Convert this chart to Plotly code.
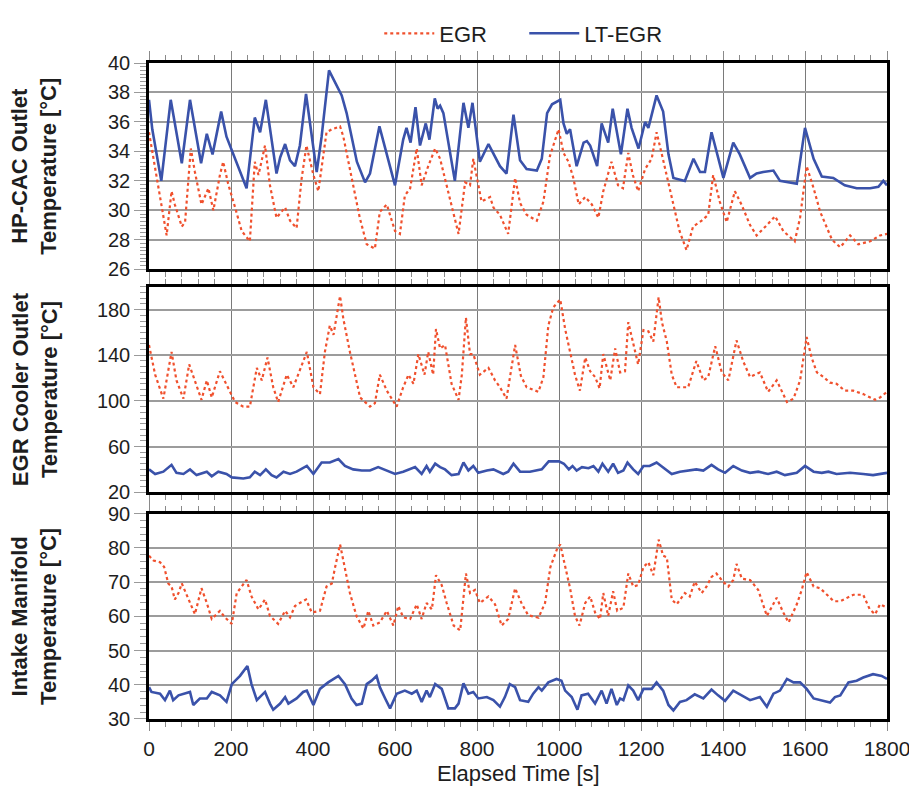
import plotly.graph_objects as go

# ---- HP-CAC outlet temperature [°C] (time [s], value) ----
hpcac_egr = [(0,35.3),(11,33.5),(23,31.7),(43,28.3),(55,31.3),(63,30.4),(80,28.9),(88,29.2),(102,34.2),(112,32.6),
             (128,30.4),(145,31.5),(157,30.0),(173,32.4),(181,33.3),(193,31.8),(210,30.2),(226,28.6),(246,27.9),(258,33.3),
             (267,32.4),(283,34.4),(295,31.7),(311,29.5),(332,30.2),(344,29.3),(360,28.8),(372,32.1),(384,34.4),(401,32.4),
             (413,31.3),(433,35.3),(446,35.5),(466,35.7),(474,35.0),(490,32.8),(514,29.5),(531,27.7),(551,27.4),(563,29.9),
             (580,30.4),(600,28.6),(612,28.4),(624,31.0),(637,31.5),(653,34.2),(665,31.7),(681,33.0),(698,34.2),(710,33.5),
             (718,32.6),(738,30.4),(755,28.4),(771,31.9),(783,31.7),(791,33.5),(811,30.6),(832,30.9),(840,30.2),(856,29.7),
             (876,28.4),(893,32.2),(905,30.5),(921,29.7),(946,29.3),(962,30.6),(978,33.7),(999,35.5),(1011,33.9),(1023,33.3),
             (1035,32.2),(1048,30.4),(1064,30.9),(1080,30.4),(1096,29.5),(1108,31.3),(1128,33.3),(1144,31.7),(1156,31.5),
             (1169,33.9),(1180,32.4),(1193,31.3),(1210,32.8),(1226,33.5),(1238,35.3),(1250,33.9),(1263,32.4),(1279,30.4),
             (1294,28.6),(1311,27.3),(1327,28.9),(1348,29.3),(1364,29.7),(1376,32.4),(1392,30.6),(1409,29.2),(1429,31.3),
             (1445,30.4),(1466,29.0),(1482,28.3),(1507,29.0),(1527,29.6),(1547,28.6),(1575,27.9),(1588,29.5),(1604,33.0),
             (1621,31.5),(1637,29.9),(1666,28.0),(1686,27.5),(1710,28.3),(1730,27.7),(1759,27.9),(1783,28.3),(1800,28.4)]

hpcac_lt = [(0,37.5),(8,35.5),(30,32.0),(53,37.5),(80,33.2),(100,37.5),(127,33.2),(141,35.2),(155,33.8),(176,36.7),
            (189,35.0),(238,31.5),(258,36.3),(271,35.3),(285,37.5),(311,32.5),(320,33.6),(332,34.5),(344,33.4),(356,33.0),
            (368,34.4),(383,37.9),(409,32.6),(421,35.0),(439,39.5),(458,38.4),(470,37.8),(482,36.6),(507,33.3),(527,31.9),
            (539,32.5),(562,35.7),(600,31.7),(620,34.8),(628,35.6),(638,34.6),(650,37.0),(661,34.4),(675,35.9),(684,34.8),
            (697,37.6),(704,36.9),(710,37.1),(718,36.6),(746,32.0),(767,37.3),(779,35.6),(789,37.3),(807,33.3),(828,34.5),
            (840,33.9),(856,33.0),(872,32.5),(889,36.5),(905,33.4),(921,32.8),(946,32.7),(958,33.5),(971,36.6),(983,37.2),
            (1003,37.5),(1011,35.9),(1019,35.2),(1027,35.5),(1043,33.0),(1060,34.6),(1068,34.7),(1076,34.4),(1093,33.0),
            (1104,35.9),(1120,34.6),(1131,36.9),(1151,33.8),(1167,36.9),(1177,35.6),(1194,34.2),(1210,36.0),(1218,35.6),
            (1238,37.8),(1254,36.7),(1267,33.8),(1279,32.2),(1307,32.0),(1328,33.5),(1344,32.6),(1356,32.6),(1372,35.3),
            (1401,32.2),(1425,34.6),(1441,33.8),(1466,32.2),(1482,32.5),(1498,32.6),(1523,32.7),(1539,32.0),(1564,31.9),
            (1580,31.8),(1600,35.6),(1621,33.5),(1641,32.3),(1669,32.2),(1697,31.7),(1726,31.5),(1759,31.5),(1779,31.6),
            (1791,32.0),(1800,31.7)]

# ---- EGR cooler outlet temperature [°C] ----
cooler_egr = [(0,149),(15,123),(35,102),(55,143),(67,118),(84,102),(98,132),(108,121),(128,101),(141,118),(153,103),
              (173,126),(193,112),(210,99),(230,95),(246,95),(263,129),(275,118),(289,138),(303,112),(315,99),(336,123),
              (352,112),(364,123),(385,143),(401,112),(417,106),(429,143),(441,166),(450,158),(466,192),(474,172),(490,143),
              (515,103),(539,95),(551,98),(563,123),(580,109),(604,95),(620,112),(633,123),(645,115),(657,141),(672,123),
              (681,143),(693,123),(700,163),(710,146),(722,149),(738,115),(755,101),(763,123),(773,173),(783,141),(791,141),
              (807,123),(828,129),(844,118),(856,112),(872,102),(893,149),(907,122),(921,112),(950,108),(962,121),(974,166),
              (986,182),(1003,189),(1015,163),(1027,143),(1039,123),(1051,109),(1064,138),(1076,126),(1088,121),(1099,111),
              (1108,141),(1125,118),(1137,146),(1149,125),(1161,126),(1169,169),(1181,149),(1193,132),(1206,162),(1218,161),
              (1230,152),(1243,191),(1251,169),(1263,152),(1275,123),(1287,112),(1315,112),(1335,135),(1352,118),(1364,121),
              (1381,148),(1397,125),(1413,118),(1433,153),(1449,135),(1466,121),(1490,125),(1510,108),(1531,118),(1556,99),
              (1572,102),(1588,118),(1604,156),(1616,138),(1629,125),(1645,121),(1661,116),(1677,115),(1697,109),(1718,109),
              (1742,106),(1771,101),(1783,103),(1800,108)]

cooler_lt = [(0,40),(15,36),(35,38),(55,44),(67,37),(84,36),(100,40),(116,35),(141,38),(153,34),(169,38),(189,36),
             (202,33),(230,32),(246,33),(258,38),(271,35),(285,40),(299,35),(311,33),(328,38),(344,36),(360,38),(385,43),
             (401,36),(421,46),(441,46),(462,49),(478,43),(498,40),(519,39),(539,39),(559,42),(580,39),(600,36),(620,38),
             (633,40),(649,42),(665,36),(677,43),(685,38),(698,45),(710,42),(722,40),(738,35),(755,36),(767,46),(779,39),
             (791,43),(803,37),(824,39),(840,40),(864,36),(876,38),(889,45),(905,38),(929,38),(958,40),(975,47),(1000,47),
             (1012,45),(1024,40),(1033,43),(1043,39),(1056,42),(1072,41),(1084,43),(1096,38),(1106,45),(1120,38),(1132,45),
             (1144,37),(1157,39),(1167,46),(1181,40),(1193,36),(1206,43),(1221,43),(1238,46),(1254,42),(1275,36),(1295,38),
             (1315,39),(1335,40),(1352,39),(1372,44),(1388,40),(1405,37),(1425,43),(1446,39),(1466,37),(1486,38),(1510,36),
             (1531,38),(1551,35),(1580,37),(1600,43),(1621,38),(1641,37),(1657,38),(1677,36),(1710,37),(1742,36),(1766,35),
             (1800,37)]

# ---- Intake manifold temperature [°C] ----
intake_egr = [(0,77.7),(11,76.3),(27,75.8),(37,74.4),(47,69.6),(55,68.7),(63,64.9),(72,66.8),(80,69.6),(96,64.9),
              (112,60.6),(128,68.2),(141,63.9),(153,59.2),(173,61.6),(185,59.7),(202,57.8),(214,66.8),(238,70.6),(250,65.8),
              (267,62.0),(283,64.9),(295,60.1),(315,57.8),(332,61.6),(344,59.7),(356,63.0),(368,63.9),(383,64.9),(397,61.1),
              (417,61.6),(433,68.7),(446,69.6),(454,74.4),(466,81.0),(474,76.3),(490,66.8),(506,60.1),(523,56.4),(535,61.6),
              (547,57.3),(563,58.2),(580,61.6),(596,57.3),(608,63.0),(620,59.7),(637,59.2),(653,63.5),(665,59.2),(677,63.9),
              (690,62.0),(700,72.0),(714,69.1),(726,63.9),(743,57.3),(759,55.9),(773,72.5),(783,66.8),(795,67.7),(807,63.9),
              (828,65.8),(844,63.5),(860,57.3),(876,59.2),(893,68.2),(909,63.7),(925,60.3),(950,59.6),(966,63.9),(979,74.4),
              (995,79.6),(1003,81.0),(1015,74.4),(1027,68.2),(1039,60.1),(1050,57.3),(1064,63.9),(1076,65.8),(1088,61.1),
              (1100,59.2),(1108,66.8),(1120,60.1),(1132,67.3),(1142,61.6),(1157,62.5),(1169,72.5),(1181,68.7),(1193,69.1),
              (1206,74.4),(1218,75.8),(1230,72.0),(1243,82.4),(1254,77.7),(1263,77.2),(1275,64.9),(1287,63.5),(1307,66.8),
              (1319,65.8),(1331,70.1),(1348,66.8),(1360,68.7),(1372,71.5),(1384,72.5),(1400,70.1),(1413,68.7),(1425,70.6),
              (1433,75.3),(1446,71.0),(1466,70.6),(1486,67.7),(1507,60.1),(1531,65.4),(1547,61.1),(1560,58.2),(1580,63.5),
              (1592,67.7),(1604,72.9),(1621,68.7),(1637,68.2),(1653,66.3),(1670,64.4),(1686,64.4),(1702,65.4),(1718,66.3),
              (1742,66.3),(1758,62.0),(1771,60.6),(1783,63.5),(1800,62.5)]

intake_lt = [(0,39.3),(6,37.9),(27,37.4),(39,35.5),(51,38.3),(59,35.5),(72,36.9),(88,37.4),(100,37.9),(108,34.1),
             (124,36.0),(141,36.0),(153,37.9),(173,36.9),(189,35.0),(202,40.2),(222,42.6),(240,45.5),(250,40.2),(263,35.5),
             (283,37.9),(295,34.5),(303,32.7),(320,34.5),(332,36.4),(340,34.5),(360,36.0),(376,37.9),(385,38.3),(401,34.1),
             (417,38.8),(437,40.7),(462,42.6),(478,40.2),(494,36.0),(506,34.1),(519,34.5),(531,40.2),(543,41.2),(555,42.6),
             (563,39.3),(576,36.0),(588,33.1),(604,37.4),(624,38.3),(641,37.4),(653,38.3),(665,35.0),(677,38.3),(685,36.4),
             (698,40.2),(714,38.8),(730,33.1),(746,33.1),(755,34.5),(767,40.4),(779,37.4),(791,37.9),(803,36.0),(824,36.4),
             (840,35.5),(856,33.6),(868,36.4),(880,40.2),(893,39.3),(905,35.5),(925,35.0),(937,37.4),(950,39.3),(958,38.3),
             (974,40.7),(994,41.7),(1006,41.2),(1015,38.3),(1031,36.4),(1045,32.7),(1055,36.9),(1071,37.4),(1088,34.5),
             (1104,38.3),(1116,34.5),(1128,38.8),(1141,34.1),(1149,36.0),(1157,35.5),(1169,39.8),(1181,38.3),(1193,35.5),
             (1206,38.8),(1226,38.8),(1238,40.7),(1254,38.3),(1267,34.1),(1279,32.5),(1295,35.0),(1311,35.5),(1331,37.2),
             (1352,36.0),(1372,38.6),(1388,36.9),(1405,35.3),(1425,38.3),(1446,36.9),(1466,35.5),(1490,36.4),(1507,33.6),
             (1523,37.4),(1539,38.3),(1556,41.7),(1572,40.7),(1588,40.7),(1604,38.8),(1621,36.0),(1641,35.5),(1661,34.8),
             (1673,36.4),(1686,36.9),(1706,40.7),(1726,41.2),(1742,42.1),(1766,43.1),(1787,42.6),(1800,41.7)]

series_names = ["EGR", "LT-EGR"]
panel_titles = ["HP-CAC Outlet<br>Temperature [°C]",
                "EGR Cooler Outlet<br>Temperature [°C]",
                "Intake Manifold<br>Temperature [°C]"]
x_title = "Elapsed Time [s]"

EGR_COLOR = "#f0502d"
LT_COLOR = "#3a52aa"
FONT = "Liberation Sans, Arial, Helvetica, sans-serif"
TXT = "#1e1e1e"

fig = go.Figure()
panels = [(hpcac_egr, hpcac_lt), (cooler_egr, cooler_lt), (intake_egr, intake_lt)]
for i, (egr, lt) in enumerate(panels):
    ax = "" if i == 0 else str(i + 1)
    for data, name, color, dash, width in [(egr, series_names[0], EGR_COLOR, "dot", 2.2),
                                           (lt, series_names[1], LT_COLOR, "solid", 2.6)]:
        t, v = zip(*data)
        fig.add_trace(go.Scatter(
            x=list(t), y=list(v), mode="lines", name=name, legendgroup=name,
            showlegend=(i == 0), line=dict(color=color, dash=dash, width=width),
            xaxis="x" + ax, yaxis="y" + ax))

common_x = dict(range=[0, 1800], dtick=200, tick0=0, showgrid=True, gridcolor="#7a7a7a", gridwidth=1.3,
                showline=True, linecolor="black", linewidth=2.5, mirror="ticks",
                ticks="outside", ticklen=9, tickwidth=1.3, tickcolor="#8a8a8a", zeroline=False,
                minor=dict(dtick=40, ticks="outside", ticklen=5, tickwidth=1.2, tickcolor="#8a8a8a", showgrid=False),
                tickfont=dict(size=21, color=TXT, family=FONT), ticklabeloverflow="allow",
                automargin=False)
common_y = dict(showgrid=True, gridcolor="#9c9c9c", gridwidth=2, showline=True, linecolor="black",
                linewidth=2.5, mirror=True, ticks="outside", ticklen=12, tickwidth=1.3, tickcolor="#9a9a9a",
                zeroline=False, tickfont=dict(size=20, color=TXT, family=FONT), automargin=False)

def minor_y(step):
    return dict(dtick=step, ticks="outside", ticklen=6, tickwidth=1, tickcolor="#9a9a9a", showgrid=False)

fig.update_layout(
    width=909, height=787, plot_bgcolor="white", paper_bgcolor="white",
    margin=dict(l=149, r=22, t=45, b=68),
    font=dict(family=FONT, color=TXT),
    xaxis=dict(common_x, anchor="y", showticklabels=False),
    xaxis2=dict(common_x, anchor="y2", matches="x", showticklabels=False),
    xaxis3=dict(common_x, anchor="y3", matches="x", showticklabels=True),
    yaxis=dict(common_y, domain=[0.6855, 1.0], range=[26, 40], dtick=2, minor=minor_y(0.25)),
    yaxis2=dict(common_y, domain=[0.3457, 0.6588], range=[20, 200], tick0=20, dtick=40, minor=minor_y(5)),
    yaxis3=dict(common_y, domain=[0.0, 0.3131], range=[30, 90], dtick=10, minor=minor_y(2)),
    legend=dict(orientation="h", x=0.312, xanchor="left", y=1.045, yanchor="middle",
                font=dict(size=22, color=TXT), bgcolor="rgba(0,0,0,0)",
                itemwidth=50, entrywidth=80, tracegroupgap=0),
    showlegend=True,
)

# stacked y-axis titles, one per panel
for title, dom in zip(panel_titles, [[0.6855, 1.0], [0.3457, 0.6588], [0.0, 0.3131]]):
    fig.add_annotation(text="<b>" + title + "</b>", xref="paper", yref="paper",
                       x=-0.155, y=(dom[0] + dom[1]) / 2, xanchor="center", yanchor="middle",
                       textangle=-90, showarrow=False,
                       font=dict(size=22, color=TXT, family=FONT))

fig.add_annotation(text=x_title, xref="paper", yref="paper", x=0.5, y=-0.083,
                   xanchor="center", yanchor="middle", showarrow=False,
                   font=dict(size=22, color=TXT, family=FONT))

fig.write_html("out.html")
